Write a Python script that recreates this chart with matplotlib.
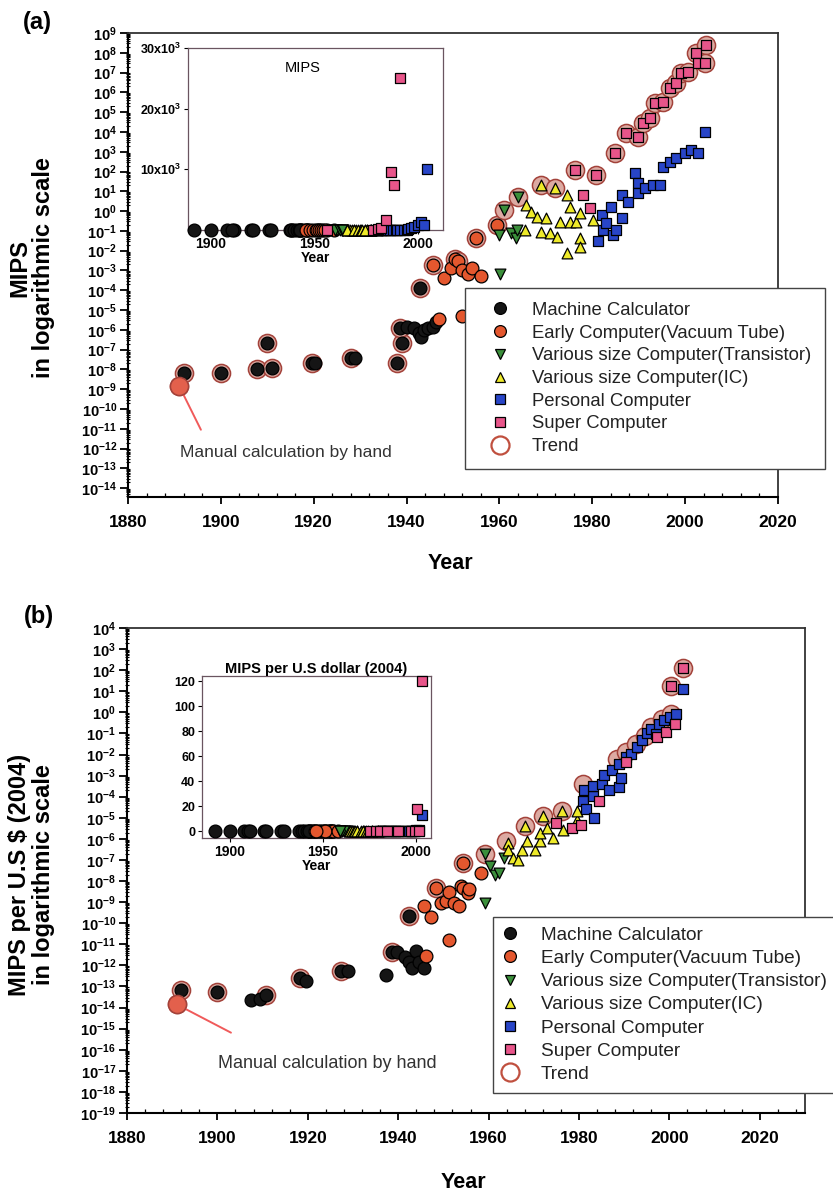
import numpy as np
import matplotlib.pyplot as plt
from matplotlib.lines import Line2D
from matplotlib.ticker import FixedLocator, FixedFormatter, MultipleLocator

plt.rcParams['font.family'] = ['Liberation Sans', 'DejaVu Sans']
plt.rcParams['mathtext.fontset'] = 'custom'
plt.rcParams['mathtext.rm'] = 'Liberation Sans'
plt.rcParams['mathtext.bf'] = 'Liberation Sans:bold'

W, H = 833, 1196

# ---- panel (a): MIPS, values as log10 exponents ----
calc_a_year = [1892, 1900, 1907.8, 1911, 1910, 1919.6, 1920.3, 1928, 1929, 1938, 1939, 1938.5,
               1940, 1941.5, 1942.6, 1943.2, 1943.7, 1944.7, 1945.8, 1946.3, 1943]
calc_a_exp = [-8.2, -8.2, -8.0, -7.95, -6.65, -7.67, -7.7, -7.4, -7.4, -7.7, -6.65, -5.9,
              -5.85, -5.9, -6.15, -6.35, -6.0, -5.9, -5.85, -5.6, -3.9]
tube_a_year = [1947, 1952, 1945.8, 1948, 1949.5, 1950.5, 1951, 1952, 1953.3, 1954, 1956, 1955, 1959.4]
tube_a_exp = [-5.45, -5.3, -2.7, -3.4, -2.9, -2.4, -2.5, -3.0, -3.2, -2.9, -3.3, -1.35, -0.7]
tran_a_year = [1960.2, 1961, 1964, 1960, 1962.4, 1963.5, 1963.7]
tran_a_exp = [-3.2, 0.05, 0.7, -1.2, -1.1, -1.35, -0.95]
ic_a_year = [1969, 1972, 1965.8, 1966.9, 1968, 1970, 1965.6, 1969, 1971, 1972.3, 1973, 1974.5,
             1975.2, 1975.2, 1976.6, 1977.4, 1977.4, 1977.4, 1974.5, 1980.2]
ic_a_exp = [1.3, 1.15, 0.3, -0.05, -0.3, -0.35, -0.95, -1.05, -1.1, -1.3, -0.55, 0.8,
            0.2, -0.55, -0.55, -0.1, -1.35, -1.8, -2.1, -0.45]
pc_a_year = [1981.3, 1982, 1982.4, 1983, 1984, 1984.5, 1985.2, 1986.3, 1986.3, 1987.7, 1989.2,
             1989.9, 1989.9, 1991.4, 1993, 1994.6, 1995.3, 1996.8, 1998, 2000, 2001.3, 2002.8, 2004.3]
pc_a_exp = [-1.5, -0.2, -0.95, -0.6, 0.2, -1.2, -0.95, 0.8, -0.35, 0.45, 1.9,
            1.4, 0.9, 1.15, 1.3, 1.3, 2.25, 2.5, 2.7, 2.95, 3.1, 2.95, 4.0]
super_a_year = [1976.3, 1978, 1979.5, 1980.9, 1985, 1987.3, 1989.9, 1991, 1992.5, 1993.6, 1995.3,
                1996.8, 1998, 1999.2, 2000.6, 2002.4, 2002.8, 2004.3, 2004.5]
super_a_exp = [2.1, 0.8, 0.15, 1.8, 2.95, 3.95, 3.75, 4.45, 4.7, 5.45, 5.5,
               6.2, 6.45, 7.0, 7.05, 8.0, 7.5, 7.5, 8.4]
trend_a_year = [1891, 1892, 1900, 1907.8, 1911, 1910, 1919.6, 1928, 1938, 1939, 1938.5, 1943,
                1945.8, 1950.5, 1951, 1955, 1959.4, 1961, 1964, 1969, 1972, 1976.3, 1980.9,
                1985, 1987.3, 1989.9, 1991, 1992.5, 1993.6, 1995.3, 1996.8, 1998, 1999.2,
                2000.6, 2002.4, 2004.5, 2004.3]
trend_a_exp = [-8.83, -8.2, -8.2, -8.0, -7.95, -6.65, -7.67, -7.4, -7.7, -6.65, -5.9, -3.9,
               -2.7, -2.4, -2.5, -1.35, -0.7, 0.05, 0.7, 1.3, 1.15, 2.1, 1.8,
               2.95, 3.95, 3.75, 4.45, 4.7, 5.45, 5.5, 6.2, 6.45, 7.0,
               7.05, 8.0, 8.4, 7.5]
manual_a_year, manual_a_exp = [1891], [-8.83]

# inset (a) super computers, linear MIPS
ins_super_year = [1956, 1978, 1980.5, 1982, 1984.3, 1986.7, 1988.6, 1991.4]
ins_super_mips = [0, 0, 150, 300, 1600, 9500, 7400, 25000]

# ---- panel (b): MIPS per US$ (2004), log10 exponents ----
calc_b_year = [1892, 1900, 1907.5, 1909.5, 1910.8, 1918.2, 1919.6, 1927.3, 1928.8, 1937.3, 1938.6,
               1939.7, 1941.4, 1942.3, 1943, 1944, 1944.5, 1945.6, 1942.3]
calc_b_exp = [-13.18, -13.27, -13.65, -13.6, -13.4, -12.6, -12.75, -12.27, -12.27, -12.45, -11.36,
              -11.36, -11.6, -11.85, -12.1, -11.3, -11.85, -12.1, -9.64]
tube_b_year = [1945.6, 1947.3, 1948.4, 1949.5, 1950.6, 1951.3, 1952.4, 1953.4, 1953.9, 1954.3,
               1954.3, 1955.4, 1955.6, 1951.3, 1946.2, 1958.3]
tube_b_exp = [-9.16, -9.7, -8.35, -9.06, -8.97, -8.5, -9.06, -9.2, -8.25, -8.35,
              -7.15, -8.58, -8.4, -10.8, -11.55, -7.63]
tran_b_year = [1959.3, 1960.4, 1961.5, 1962.2, 1963.3, 1959.3]
tran_b_exp = [-6.7, -7.3, -7.72, -7.63, -6.9, -9.06]
ic_b_year = [1964.2, 1968, 1972, 1976.2, 1964.4, 1965.5, 1966.6, 1967.4, 1968.5, 1970.3, 1971.4,
             1971.4, 1973, 1974.2, 1976.4, 1979.5, 1979.5]
ic_b_exp = [-6.2, -5.38, -4.9, -4.66, -6.53, -6.9, -7.0, -6.53, -6.1, -6.53, -6.1,
            -5.7, -5.47, -5.95, -5.6, -5.1, -4.66]
pc_b_year = [1980.8, 1981.2, 1981.6, 1983, 1983, 1983.4, 1985.1, 1985.6, 1986.7, 1987.4, 1988.9,
             1988.9, 1989.3, 1990.4, 1991.5, 1992.8, 1993.9, 1995, 1996, 1997, 1997.6, 1998.7,
             2000.2, 2001.5, 2003]
pc_b_exp = [-4.2, -3.66, -4.6, -3.95, -3.5, -5.0, -3.4, -2.95, -3.7, -2.75, -3.56,
            -2.46, -3.1, -2.1, -1.98, -1.65, -1.3, -1.0, -0.8, -1.05, -0.55, -0.36,
            -0.2, -0.1, 1.12]
super_b_year = [1975, 1978.4, 1980.5, 1984.5, 1990.4, 1997.2, 1999.3, 2001.3, 2000.4, 2003]
super_b_exp = [-5.23, -5.47, -5.33, -4.2, -2.36, -1.17, -0.93, -0.55, 1.25, 2.08]
trend_b_year = [1891, 1892, 1900, 1910.8, 1918.2, 1927.3, 1938.6, 1942.3, 1948.4, 1954.3, 1959.3,
                1963.9, 1968, 1972, 1976.2, 1980.8, 1988.4, 1990.5, 1992.6, 1994.5, 1996,
                1998.3, 2000.4, 2000.4, 2003]
trend_b_exp = [-13.85, -13.18, -13.27, -13.4, -12.6, -12.27, -11.36, -9.64, -8.35, -7.15, -6.7,
               -6.1, -5.38, -4.9, -4.66, -3.4, -2.2, -1.9, -1.5, -1.1, -0.7,
               -0.3, -0.07, 1.25, 2.08]
manual_b_year, manual_b_exp = [1891], [-13.85]

LABELS = ['Machine Calculator', 'Early Computer(Vacuum Tube)',
          'Various size Computer(Transistor)', 'Various size Computer(IC)',
          'Personal Computer', 'Super Computer', 'Trend']
MARKERS = ['o', 'o', 'v', '^', 's', 's']
COLORS = ['#151515', '#e4572e', '#3b8f3b', '#eeea2a', '#2845c8', '#e8558a']
SIZES = [85, 85, 60, 60, 62, 62]
TREND_EDGE = '#a3423a'
TREND_FACE = '#dcaaa2'


def pw(e):
    return 10.0 ** np.asarray(e, dtype=float)


def rect(x0, y0, x1, y1):
    return [x0 / W, 1 - y1 / H, (x1 - x0) / W, (y1 - y0) / H]


def draw_series(ax, series, clip=True):
    for (yrs, vals), mk, col, s in zip(series, MARKERS, COLORS, SIZES):
        ax.scatter(yrs, vals, marker=mk, s=s, c=col, edgecolors='black',
                   linewidths=0.9, zorder=3, clip_on=clip)


def style_main(ax, ylo, yhi, xhi):
    ax.set_yscale('log')
    ax.set_ylim(10.0 ** ylo, 10.0 ** yhi)
    ax.set_xlim(1880, xhi)
    decades = np.arange(int(np.ceil(ylo)), yhi + 1)
    ax.yaxis.set_major_locator(FixedLocator(pw(decades)))
    ax.yaxis.set_major_formatter(FixedFormatter([r'$\mathbf{10^{%d}}$' % d for d in decades]))
    ax.yaxis.set_minor_locator(FixedLocator(np.outer(pw(np.arange(int(np.floor(ylo)), yhi)),
                                                     np.arange(2, 10)).ravel()))
    ax.xaxis.set_major_locator(FixedLocator(np.arange(1880, 2021, 20)))
    ax.xaxis.set_minor_locator(MultipleLocator(4))
    ax.tick_params(axis='y', which='major', direction='out', length=6, width=1.3,
                   labelsize=10.5, pad=2)
    ax.tick_params(axis='y', which='minor', direction='inout', length=3, width=0.8)
    ax.tick_params(axis='x', which='major', direction='out', length=5, width=1.3, pad=8)
    ax.tick_params(axis='x', which='minor', direction='in', length=3, width=0.9)
    for lab in ax.get_xticklabels():
        lab.set_fontsize(12.5)
        lab.set_fontweight('bold')
    for side in ('left', 'bottom'):
        ax.spines[side].set_linewidth(1.5)
    for side in ('top', 'right'):
        ax.spines[side].set_linewidth(1.3)
        ax.spines[side].set_color('#333333')


def draw_trend(ax, yrs, vals, manual):
    ax.scatter(yrs, vals, marker='o', s=170, facecolors=TREND_FACE, edgecolors=TREND_EDGE,
               linewidths=1.1, zorder=2)
    ax.scatter(*manual, marker='o', s=170, c='#e3604c', edgecolors=TREND_EDGE,
               linewidths=1.1, zorder=4)


def style_inset(ax):
    for sp in ax.spines.values():
        sp.set_linewidth(0.9)
        sp.set_color('#6a5560')
    ax.tick_params(length=3, width=0.8, labelsize=9.5, pad=2)
    ax.set_xticks([1900, 1950, 2000])
    for lab in ax.get_xticklabels() + ax.get_yticklabels():
        lab.set_fontweight('bold')
    for lab in ax.get_xticklabels():
        lab.set_fontsize(10)


def legend_handles():
    hs = [Line2D([], [], ls='none', marker=m, ms=8.5 if m == 'o' else 7.5, mfc=c, mec='black',
                 mew=0.9) for m, c in zip(MARKERS, COLORS)]
    hs.append(Line2D([], [], ls='none', marker='o', ms=13, mfc='white', mec='#c0503f', mew=1.6))
    return hs


def add_legend(x0, y0, size, hl, htp, pad):
    leg = fig.legend(legend_handles(), LABELS, loc='upper left',
                     bbox_to_anchor=(x0 / W, 1 - y0 / H), borderaxespad=0, fontsize=size,
                     fancybox=False, edgecolor='#444444', framealpha=1, handlelength=hl,
                     handletextpad=htp, borderpad=pad, labelspacing=0.31)
    leg.get_frame().set_linewidth(1.0)
    for t in leg.get_texts():
        t.set_color('#222222')
    return leg


fig = plt.figure(figsize=(W / 100, H / 100), dpi=100)

# ---------------- panel (a) ----------------
ax_a = fig.add_axes(rect(128, 33, 778, 497))
series_a = [(calc_a_year, pw(calc_a_exp)), (tube_a_year, pw(tube_a_exp)),
            (tran_a_year, pw(tran_a_exp)), (ic_a_year, pw(ic_a_exp)),
            (pc_a_year, pw(pc_a_exp)), (super_a_year, pw(super_a_exp))]
draw_trend(ax_a, trend_a_year, pw(trend_a_exp), (manual_a_year, pw(manual_a_exp)))
draw_series(ax_a, series_a)
style_main(ax_a, -14.45, 9, 2020)
ax_a.annotate('', xy=(manual_a_year[0], pw(manual_a_exp[0])), xytext=(1895.7, pw(-11.05)),
              arrowprops=dict(arrowstyle='-', color='#f05a5a', lw=1.4, shrinkA=0, shrinkB=6))
ax_a.text(0.08, 0.0955, 'Manual calculation by hand', transform=ax_a.transAxes,
          fontsize=12.5, color='#333333', va='center', ha='left')
add_legend(465, 288, 13.3, 2.27, 0.6, 0.75)

ins_a = fig.add_axes(rect(188, 48, 443, 230))
draw_series(ins_a, series_a[:5], clip=False)
ins_a.scatter(ins_super_year, ins_super_mips, marker='s', s=55, c=COLORS[5],
              edgecolors='black', linewidths=0.9, zorder=4, clip_on=False)
ins_a.set_xlim(1889, 2012)
ins_a.set_ylim(0, 30000)
ins_a.set_yticks([10000, 20000, 30000])
ins_a.set_yticklabels([r'$\mathbf{%dx10^{3}}$' % v for v in (10, 20, 30)])
style_inset(ins_a)
ins_a.tick_params(axis='y', labelsize=9)
ins_a.text(0.45, 0.89, 'MIPS', transform=ins_a.transAxes, fontsize=10.5, ha='center', va='center')
ins_a.set_xlabel('Year', fontsize=10, fontweight='bold', labelpad=0)

fig.text(37 / W, 1 - 22 / H, '(a)', fontsize=17, fontweight='bold', ha='center', va='center')
fig.text(20 / W, 1 - 268 / H, 'MIPS', rotation=90, fontsize=17, fontweight='bold',
         ha='center', va='center')
fig.text(44 / W, 1 - 268 / H, 'in logarithmic scale', rotation=90, fontsize=17,
         fontweight='bold', ha='center', va='center')
fig.text(450 / W, 1 - 563 / H, 'Year', fontsize=15.5, fontweight='bold', ha='center', va='center')

# ---------------- panel (b) ----------------
ax_b = fig.add_axes(rect(127, 628, 805, 1113))
series_b = [(calc_b_year, pw(calc_b_exp)), (tube_b_year, pw(tube_b_exp)),
            (tran_b_year, pw(tran_b_exp)), (ic_b_year, pw(ic_b_exp)),
            (pc_b_year, pw(pc_b_exp)), (super_b_year, pw(super_b_exp))]
draw_trend(ax_b, trend_b_year, pw(trend_b_exp), (manual_b_year, pw(manual_b_exp)))
draw_series(ax_b, series_b)
style_main(ax_b, -19, 4, 2030)
ax_b.annotate('', xy=(manual_b_year[0], pw(manual_b_exp[0])), xytext=(1903, pw(-15.19)),
              arrowprops=dict(arrowstyle='-', color='#f05a5a', lw=1.4, shrinkA=0, shrinkB=6))
ax_b.text(0.134, 0.103, 'Manual calculation by hand', transform=ax_b.transAxes,
          fontsize=13, color='#333333', va='center', ha='left')
add_legend(493, 917, 13.7, 0.75, 1.27, 0.5)

ins_b = fig.add_axes(rect(202, 676, 431, 838))
draw_series(ins_b, series_b, clip=False)
ins_b.set_xlim(1885, 2008)
ins_b.set_ylim(-5.5, 124)
ins_b.set_yticks(np.arange(0, 121, 20))
style_inset(ins_b)
ins_b.tick_params(axis='y', labelsize=9)
ins_b.set_title('MIPS per U.S dollar (2004)', fontsize=10.5, fontweight='bold', pad=2)
ins_b.set_xlabel('Year', fontsize=10, fontweight='bold', labelpad=0)

fig.text(39 / W, 1 - 616 / H, '(b)', fontsize=17, fontweight='bold', ha='center', va='center')
fig.text(20 / W, 1 - 875 / H, 'MIPS per U.S $ (2004)', rotation=90, fontsize=17,
         fontweight='bold', ha='center', va='center')
fig.text(44 / W, 1 - 875 / H, 'in logarithmic scale', rotation=90, fontsize=17,
         fontweight='bold', ha='center', va='center')
fig.text(463 / W, 1 - 1183 / H, 'Year', fontsize=15.5, fontweight='bold', ha='center', va='center')

fig.savefig('out.png', dpi=100)
